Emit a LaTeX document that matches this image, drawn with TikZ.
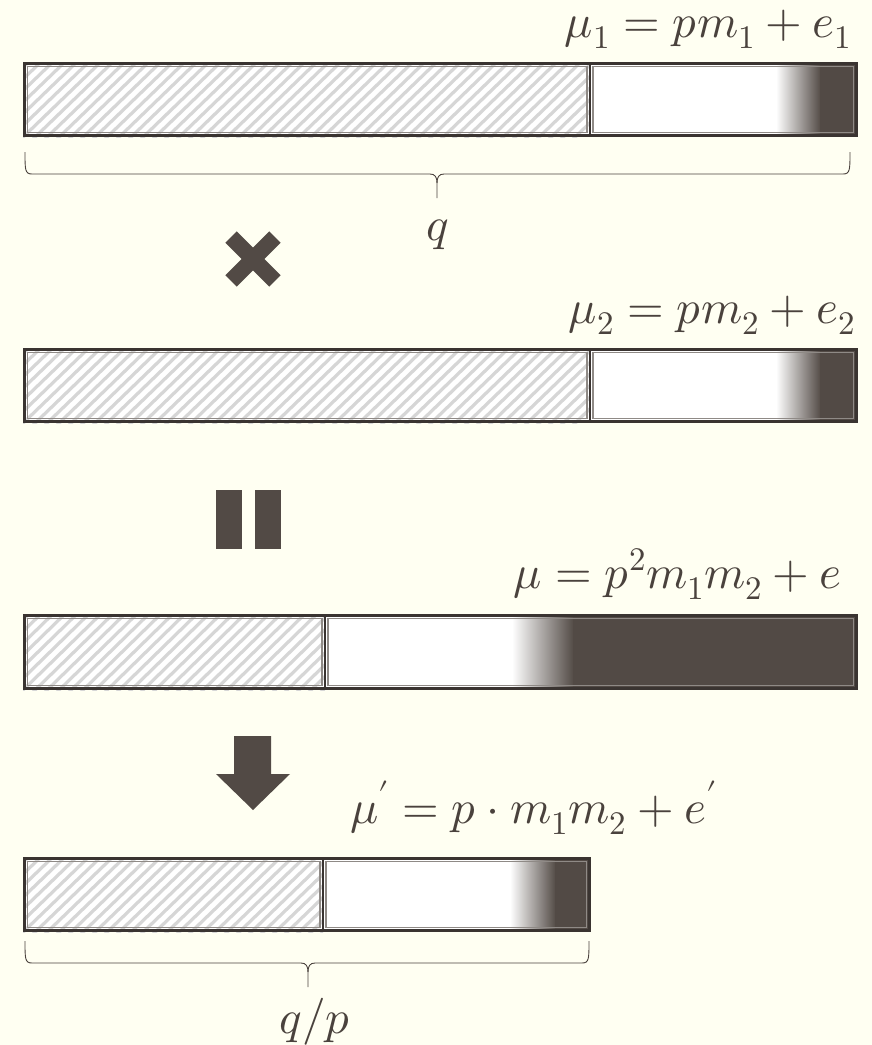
\documentclass[tikz,border=0pt]{standalone}
\usepackage{unicode-math}
\setmathfont{Latin Modern Math}
\definecolor{bg}{HTML}{FFFFF2}
\definecolor{dk}{HTML}{524A45}
\definecolor{edge}{HTML}{3A3431}
\definecolor{txt}{HTML}{4A423D}
\definecolor{hatchc}{HTML}{D6D6D6}
\definecolor{inner}{HTML}{8F8A86}
\tikzset{
  lbl/.style={text=txt,inner sep=0pt,font=\fontsize{47}{52}\selectfont},
  brc/.style={draw=txt,line width=0.9pt,line join=round},
  sym/.style={fill=dk,draw=none},
}
% \mybar{x1}{y1}{x2}{y2}{xdiv}{gradstart}{gradend}
\newcommand{\mybar}[7]{%
  \fill[white] (#1,#2) rectangle (#3,#4);
  \begin{scope}
    \clip (#1,#2) rectangle (#5,#4);
    \foreach \k in {0,12,...,640}{
      \draw[hatchc,line width=3.2pt] (#1+\k-90,#4+6) -- (#1+\k,#2-6);
    }
  \end{scope}
  \begin{scope}
    \clip (#6,#2+3) rectangle (#7,#4-3);
    \shade[left color=white,right color=dk] (#6-1,#2) rectangle (#7+1,#4);
  \end{scope}
  \fill[dk] (#7,#2+3) rectangle (#3-3,#4-3);
  \draw[inner,line width=1.2pt] (#1+4.5,#2+4.5) rectangle (#5-3,#4-4.5);
  \draw[inner,line width=1.2pt] (#5+3,#2+4.5) rectangle (#3-4.5,#4-4.5);
  \draw[edge,line width=3pt] (#1+1.5,#2+1.5) rectangle (#3-1.5,#4-1.5);
  \draw[edge,line width=2.5pt] (#5,#2) -- (#5,#4);
}
% brace: xa xb xm ytop
\newcommand{\mybrace}[4]{%
  \draw[brc] (#1,#4) .. controls (#1,#4+18) and (#1,#4+22) .. (#1+7,#4+22)
    -- (#3-7,#4+22) .. controls (#3-2,#4+22) and (#3,#4+25) .. (#3,#4+31) -- (#3,#4+46);
  \draw[brc] (#2,#4) .. controls (#2,#4+18) and (#2,#4+22) .. (#2-7,#4+22)
    -- (#3+7,#4+22) .. controls (#3+2,#4+22) and (#3,#4+25) .. (#3,#4+31);
}
\begin{document}
\begin{tikzpicture}[x=1pt,y=-1pt]
\fill[bg] (0,0) rectangle (872,1045);
\useasboundingbox (0,0) rectangle (872,1045);

% bar 1
\mybar{23}{62}{858}{137}{590}{777}{820}
\node[lbl,anchor=base east] (l1) at (852,37) {$\mu_1 = pm_1 + e_1$};
\mybrace{25}{850}{437}{152}
\node[lbl,anchor=base] (q) at (438,240) {$q$};

% cross
\fill[sym,rotate around={45:(253,259)}] (222,251) rectangle (284,267);
\fill[sym,rotate around={-45:(253,259)}] (222,251) rectangle (284,267);

% bar 2
\node[lbl,anchor=base east] (l2) at (856,323) {$\mu_2 = pm_2 + e_2$};
\mybar{23}{348}{858}{423}{590}{777}{820}

% equals
\fill[sym] (216,490) rectangle (242,549);
\fill[sym] (255,490) rectangle (281,549);

% bar 3
\node[lbl,anchor=base east] (l3) at (842,588) {$\mu = p^2 m_1 m_2 + e$};
\mybar{23}{614}{858}{690}{325}{513}{573}

% arrow
\fill[sym] (234,736) -- (271,736) -- (271,774) -- (290,774) -- (253,810) -- (216,774) -- (234,774) -- cycle;

% bar 4
\node[lbl,anchor=base east] (l4) at (717,823) {$\mu^{\prime} = p \cdot m_1 m_2 + e^{\prime}$};
\mybar{23}{857}{591}{932}{323}{511}{555}
\mybrace{25}{589}{308}{941}
\node[lbl,anchor=base] (qp) at (315,1033) {$q/p$};
\end{tikzpicture}
\end{document}
